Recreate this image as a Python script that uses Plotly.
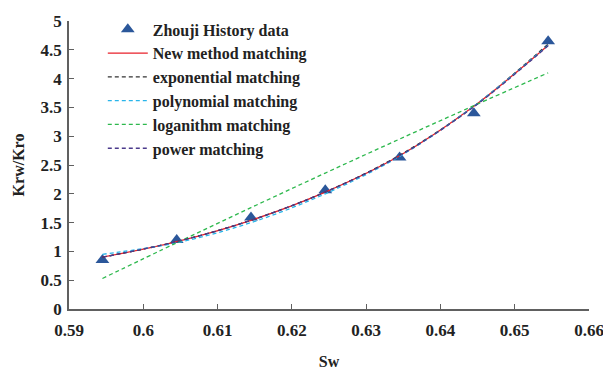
import plotly.graph_objects as go

# Water saturation and relative permeability ratio
sw = [0.5945, 0.6045, 0.6145, 0.6245, 0.6345, 0.6445, 0.6545]
history = [0.85, 1.20, 1.59, 2.06, 2.63, 3.40, 4.65]

# Fitted curves evaluated at the same saturations
new_method = [0.90, 1.17, 1.54, 2.03, 2.66, 3.52, 4.58]
exponential = [0.90, 1.17, 1.54, 2.03, 2.67, 3.52, 4.60]
polynomial = [0.95, 1.15, 1.50, 2.00, 2.65, 3.52, 4.58]
logarithm = [0.53, 1.15, 1.76, 2.36, 2.95, 3.53, 4.10]
power = [0.90, 1.17, 1.54, 2.03, 2.66, 3.51, 4.57]

x_ticks = [0.59, 0.6, 0.61, 0.62, 0.63, 0.64, 0.65, 0.66]
y_ticks = [0, 0.5, 1, 1.5, 2, 2.5, 3, 3.5, 4, 4.5, 5]

font = "Liberation Serif, Times New Roman, serif"
dash = "4px,3px"

fig = go.Figure()
fig.add_trace(go.Scatter(x=sw, y=history, mode="markers", name="<b>Zhouji History data</b>",
                         marker=dict(symbol="triangle-up", size=12, color="#2B579A")))
fig.add_trace(go.Scatter(x=sw, y=new_method, mode="lines", name="<b>New method matching</b>",
                         line=dict(color="#E8202A", width=1.3, shape="spline")))
fig.add_trace(go.Scatter(x=sw, y=exponential, mode="lines", name="<b>exponential matching</b>",
                         line=dict(color="#333333", width=1.3, dash=dash, shape="spline")))
fig.add_trace(go.Scatter(x=sw, y=polynomial, mode="lines", name="<b>polynomial matching</b>",
                         line=dict(color="#29B5EA", width=1.3, dash=dash, shape="spline")))
fig.add_trace(go.Scatter(x=sw, y=logarithm, mode="lines", name="<b>loganithm matching</b>",
                         line=dict(color="#2DB84D", width=1.3, dash=dash, shape="spline")))
fig.add_trace(go.Scatter(x=sw, y=power, mode="lines", name="<b>power matching</b>",
                         line=dict(color="#4B3A8C", width=1.3, dash=dash, shape="spline")))

axis_common = dict(showgrid=False, zeroline=False, showline=True, linecolor="#606060",
                   linewidth=1.5, ticks="inside", ticklen=5, tickcolor="#606060",
                   automargin=False, ticklabeloverflow="allow",
                   tickfont=dict(family=font, size=17, color="#222222"))

fig.update_layout(
    width=603, height=370,
    margin=dict(l=69, r=14, t=15, b=61),
    paper_bgcolor="white", plot_bgcolor="white",
    font=dict(family=font, color="#222222"),
    showlegend=True,
    legend=dict(x=0.065, y=1.03, xanchor="left", yanchor="top",
                font=dict(family=font, size=16, color="#222222"),
                bgcolor="rgba(0,0,0,0)", tracegroupgap=0, itemwidth=40),
    xaxis=dict(range=[0.59, 0.66], tickvals=x_ticks, ticktext=[f"<b>{v:g}</b>" for v in x_ticks],
               ticklabelstandoff=5,
               title=dict(text="<b>Sw</b>", font=dict(family=font, size=16), standoff=22),
               **axis_common),
    yaxis=dict(range=[0, 5], tickvals=y_ticks, ticktext=[f"<b>{v:g}</b>" for v in y_ticks],
               ticklabelstandoff=2,
               title=dict(text="<b>Krw/Kro</b>", font=dict(family=font, size=16), standoff=12),
               **axis_common),
)

fig.write_html("out.html")
